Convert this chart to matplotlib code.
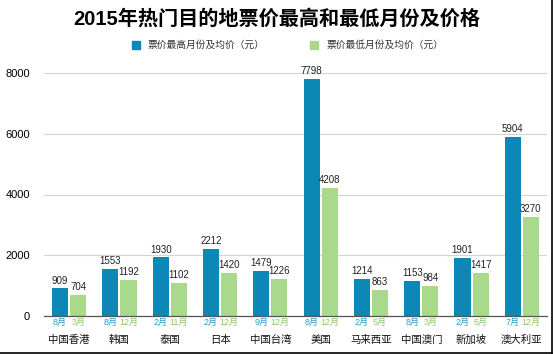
import numpy as np
import matplotlib
matplotlib.use("Agg")
import matplotlib.pyplot as plt
from matplotlib.lines import Line2D
import matplotlib.patches as patches

plt.rcParams["font.family"] = ["Liberation Sans", "Noto Sans CJK SC", "DejaVu Sans"]

# ================= DATA =================
places = ["中国香港", "韩国", "泰国", "日本", "中国台湾",
          "美国", "马来西亚", "中国澳门", "新加坡", "澳大利亚"]
high_price = [909, 1553, 1930, 2212, 1479, 7798, 1214, 1153, 1901, 5904]
low_price = [704, 1192, 1102, 1420, 1226, 4208, 863, 984, 1417, 3270]
high_month = ["8月", "8月", "2月", "2月", "9月", "8月", "2月", "8月", "2月", "7月"]
low_month = ["3月", "12月", "11月", "12月", "12月", "12月", "5月", "3月", "5月", "12月"]

BLUE = "#0c87b6"
GREEN = "#a9d98b"
BLUE_TXT = "#2a9bcc"
GREEN_TXT = "#8cc76c"

# ================= FIGURE =================
fig = plt.figure(figsize=(5.54, 3.54), dpi=100)
ax = fig.add_axes([44 / 554, 1 - 316 / 354, 503 / 554, 243 / 354])

x = np.arange(len(places))
w = 0.32
off = 0.18

b1 = ax.bar(x - off, high_price, w, color=BLUE, zorder=3)
b2 = ax.bar(x + off, low_price, w, color=GREEN, zorder=3)

for rect, v in zip(b1, high_price):
    ax.annotate(str(v), (rect.get_x() + rect.get_width() / 2, v),
                xytext=(0, 2), textcoords="offset points",
                ha="center", va="bottom", fontsize=7, color="#222222")
for rect, v in zip(b2, low_price):
    ax.annotate(str(v), (rect.get_x() + rect.get_width() / 2, v),
                xytext=(0, 2), textcoords="offset points",
                ha="center", va="bottom", fontsize=7, color="#222222")

# month labels and place names under the axis
tr = ax.get_xaxis_transform()
for i in range(len(places)):
    ax.text(x[i] - off, -0.028, high_month[i], transform=tr, ha="center",
            va="center", fontsize=6.5, color=BLUE_TXT)
    ax.text(x[i] + off, -0.028, low_month[i], transform=tr, ha="center",
            va="center", fontsize=6.5, color=GREEN_TXT)
    ax.text(x[i], -0.097, places[i], transform=tr, ha="center",
            va="center", fontsize=7.5, color="#111111")

ax.set_xlim(-0.5, len(places) - 0.5)
ax.set_ylim(0, 8000)
ax.set_yticks([0, 2000, 4000, 6000, 8000])
ax.tick_params(axis="y", length=0, pad=10, labelsize=8)
ax.set_xticks([])
ax.grid(axis="y", color="#d4d4d4", linewidth=0.8, zorder=0)
for s in ["top", "right", "left"]:
    ax.spines[s].set_visible(False)
ax.spines["bottom"].set_color("#555555")
ax.spines["bottom"].set_linewidth(0.9)
ax.spines["bottom"].set_zorder(4)

# title and legend
fig.text(0.5, 1 - 19 / 354, "2015年热门目的地票价最高和最低月份及价格",
         ha="center", va="center", fontsize=14.5, fontweight="bold")
fig.patches.append(patches.Rectangle((132 / 554, 1 - 49 / 354), 8 / 554, 8 / 354,
                                     transform=fig.transFigure, color=BLUE))
fig.text(148 / 554, 1 - 45 / 354, "票价最高月份及均价（元）",
         ha="left", va="center", fontsize=7, color="#333333")
fig.patches.append(patches.Rectangle((310 / 554, 1 - 49 / 354), 8 / 554, 8 / 354,
                                     transform=fig.transFigure, color=GREEN))
fig.text(327 / 554, 1 - 45 / 354, "票价最低月份及均价（元）",
         ha="left", va="center", fontsize=7, color="#333333")

# image frame on right and bottom
fig.add_artist(Line2D([552 / 554, 552 / 554], [1.5 / 354, 1], color="black",
                      linewidth=1.2, transform=fig.transFigure))
fig.add_artist(Line2D([0, 552 / 554], [1.5 / 354, 1.5 / 354], color="black",
                      linewidth=1.2, transform=fig.transFigure))

fig.savefig("out.png", dpi=100)
